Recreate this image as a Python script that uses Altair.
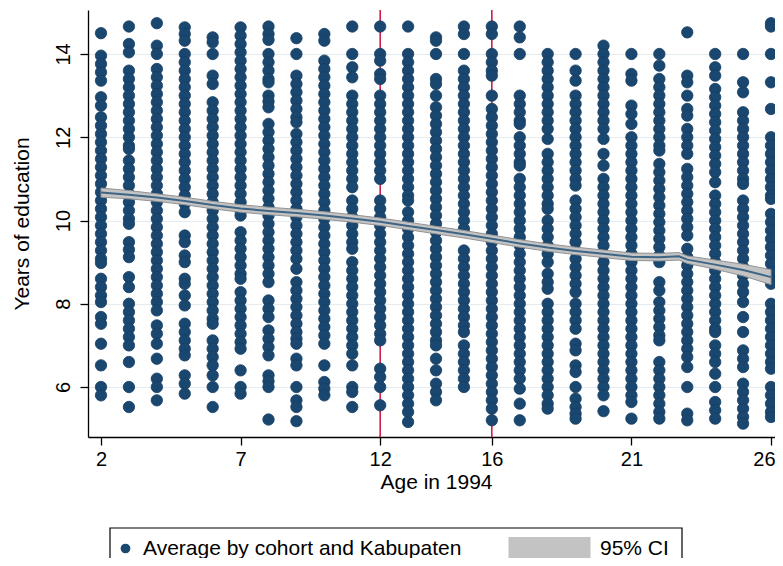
import altair as alt
import pandas as pd

# ---------------- data ----------------
AGES = list(range(2, 27))

Y02 = [14.5, 13.96, 13.76, 13.56, 13.36, 12.96, 12.76, 12.48, 12.28, 12.08, 11.88, 11.68, 11.48, 11.28, 11.08, 10.88, 10.68, 10.48, 10.28, 10.08, 9.88, 9.68, 9.48, 9.28, 9.08, 8.98, 8.6, 8.4, 8.2, 8.04, 7.68, 7.52, 7.04, 6.52, 6.0, 5.8]
Y03 = [14.66, 14.24, 14.04, 13.6, 13.4, 13.2, 13.0, 12.8, 12.6, 12.4, 12.2, 12.0, 11.8, 11.72, 11.44, 11.24, 11.04, 10.84, 10.64, 10.44, 10.24, 10.04, 9.92, 9.48, 9.3, 9.12, 8.64, 8.4, 8.0, 7.8, 7.6, 7.4, 7.2, 7.0, 6.6, 6.0, 5.52]
Y04 = [14.74, 14.2, 14.0, 13.64, 13.44, 13.24, 13.04, 12.84, 12.64, 12.44, 12.24, 12.04, 11.84, 11.64, 11.44, 11.24, 11.04, 10.84, 10.64, 10.44, 10.24, 10.04, 9.84, 9.64, 9.44, 9.24, 9.04, 8.84, 8.64, 8.44, 8.24, 8.04, 7.84, 7.48, 7.28, 7.04, 6.68, 6.2, 6.0, 5.68]
Y05 = [14.64, 14.48, 14.32, 14.0, 13.8, 13.6, 13.4, 13.2, 13.0, 12.8, 12.6, 12.4, 12.2, 12.0, 11.8, 11.6, 11.4, 11.2, 11.0, 10.8, 10.6, 10.4, 10.2, 9.64, 9.48, 9.16, 9.0, 8.6, 8.48, 8.2, 7.96, 7.52, 7.32, 7.12, 6.92, 6.76, 6.28, 6.08, 5.84]
Y06 = [14.4, 14.28, 14.0, 13.48, 13.28, 12.84, 12.64, 12.44, 12.24, 12.04, 11.84, 11.64, 11.44, 11.24, 11.04, 10.84, 10.64, 10.44, 10.24, 10.04, 9.84, 9.64, 9.44, 9.24, 9.04, 8.84, 8.64, 8.44, 8.24, 8.04, 7.84, 7.64, 7.52, 7.12, 6.92, 6.72, 6.52, 6.28, 6.0, 5.52]
Y07 = [14.64, 14.44, 14.24, 14.04, 13.84, 13.64, 13.44, 13.24, 13.04, 12.84, 12.64, 12.44, 12.24, 12.04, 11.84, 11.64, 11.44, 11.24, 11.04, 10.84, 10.64, 10.44, 10.24, 10.12, 9.72, 9.52, 9.32, 9.12, 8.92, 8.72, 8.6, 8.28, 8.08, 7.88, 7.68, 7.48, 7.28, 7.08, 6.92, 6.4, 6.0, 5.84]
Y08 = [14.66, 14.48, 14.34, 14.0, 13.8, 13.6, 13.4, 13.32, 13.0, 12.86, 12.72, 12.32, 12.12, 11.92, 11.72, 11.52, 11.32, 11.12, 10.92, 10.72, 10.52, 10.32, 10.12, 9.92, 9.72, 9.52, 9.32, 9.12, 8.92, 8.72, 8.52, 8.08, 7.88, 7.68, 7.36, 7.16, 6.96, 6.76, 6.28, 6.14, 6.0, 5.22]
Y09 = [14.38, 14.0, 13.48, 13.28, 13.08, 12.88, 12.68, 12.48, 12.36, 12.08, 11.88, 11.68, 11.48, 11.28, 11.08, 10.88, 10.68, 10.48, 10.28, 10.08, 9.88, 9.68, 9.48, 9.28, 9.08, 8.84, 8.52, 8.32, 8.12, 7.92, 7.72, 7.52, 7.32, 7.16, 7.04, 6.68, 6.52, 6.0, 5.68, 5.52, 5.18]
Y10 = [14.48, 14.32, 13.84, 13.64, 13.44, 13.24, 13.04, 12.84, 12.64, 12.44, 12.24, 12.04, 11.84, 11.64, 11.44, 11.24, 11.04, 10.84, 10.64, 10.44, 10.24, 10.04, 9.84, 9.64, 9.44, 9.24, 9.04, 8.84, 8.64, 8.44, 8.24, 8.04, 7.84, 7.64, 7.44, 7.24, 7.04, 6.52, 6.12, 5.96, 5.8]
Y11 = [14.66, 14.0, 13.68, 13.44, 13.0, 12.8, 12.6, 12.4, 12.2, 12.0, 11.8, 11.6, 11.4, 11.2, 11.0, 10.8, 10.48, 10.28, 10.08, 9.88, 9.68, 9.48, 9.32, 9.0, 8.8, 8.6, 8.4, 8.2, 8.0, 7.8, 7.6, 7.4, 7.2, 7.0, 6.8, 6.52, 6.0, 5.88, 5.52]
Y12 = [14.66, 14.0, 13.84, 13.52, 13.4, 13.0, 12.8, 12.6, 12.4, 12.2, 12.0, 11.8, 11.6, 11.4, 11.2, 11.0, 10.48, 10.28, 10.08, 9.88, 9.68, 9.48, 9.28, 9.08, 8.88, 8.68, 8.48, 8.28, 8.08, 7.88, 7.68, 7.48, 7.28, 7.12, 6.44, 6.24, 6.0, 5.56]
Y13 = [14.66, 14.0, 13.8, 13.6, 13.4, 13.2, 13.0, 12.8, 12.6, 12.4, 12.2, 12.0, 11.8, 11.6, 11.4, 11.2, 11.0, 10.8, 10.6, 10.48, 10.2, 10.0, 9.8, 9.6, 9.4, 9.2, 9.0, 8.8, 8.6, 8.4, 8.2, 8.0, 7.8, 7.6, 7.4, 7.2, 7.0, 6.8, 6.6, 6.4, 6.2, 6.0, 5.8, 5.6, 5.4, 5.16]
Y14 = [14.4, 14.32, 14.0, 13.4, 13.28, 13.0, 12.72, 12.52, 12.32, 12.12, 11.92, 11.72, 11.52, 11.32, 11.12, 10.92, 10.72, 10.52, 10.32, 10.12, 9.92, 9.72, 9.52, 9.32, 9.12, 8.92, 8.72, 8.52, 8.32, 8.12, 7.92, 7.72, 7.52, 7.32, 7.12, 7.0, 6.68, 6.4, 6.08, 5.88, 5.68]
Y15 = [14.66, 14.48, 14.0, 13.6, 13.4, 13.2, 13.0, 12.8, 12.6, 12.4, 12.2, 12.0, 11.8, 11.6, 11.4, 11.2, 11.0, 10.8, 10.6, 10.4, 10.2, 10.0, 9.8, 9.28, 9.08, 8.88, 8.68, 8.48, 8.28, 8.08, 7.88, 7.68, 7.48, 7.32, 7.0, 6.8, 6.6, 6.4, 6.2, 6.0]
Y16 = [14.66, 14.48, 14.0, 13.8, 13.6, 13.48, 13.0, 12.68, 12.48, 12.28, 12.08, 11.88, 11.68, 11.48, 11.28, 11.08, 10.88, 10.68, 10.48, 10.28, 10.08, 9.88, 9.68, 9.48, 9.28, 9.08, 8.88, 8.68, 8.48, 8.28, 8.08, 7.88, 7.68, 7.48, 7.28, 7.08, 6.88, 6.68, 6.48, 6.28, 6.08, 5.88, 5.68, 5.48, 5.2]
Y17 = [14.66, 14.4, 14.0, 13.0, 12.8, 12.6, 12.4, 12.32, 12.0, 11.8, 11.6, 11.4, 11.32, 11.0, 10.8, 10.6, 10.4, 10.2, 10.0, 9.8, 9.6, 9.4, 9.2, 9.0, 8.8, 8.6, 8.4, 8.2, 8.0, 7.8, 7.6, 7.4, 7.2, 7.0, 6.8, 6.6, 6.4, 6.2, 5.96, 5.6, 5.2]
Y18 = [14.0, 13.8, 13.6, 13.4, 13.2, 13.0, 12.8, 12.6, 12.4, 12.2, 11.96, 11.6, 11.4, 11.2, 11.0, 10.8, 10.6, 10.4, 10.28, 10.0, 9.8, 9.6, 9.4, 9.2, 9.0, 8.72, 8.52, 8.36, 8.0, 7.8, 7.6, 7.4, 7.2, 7.0, 6.8, 6.6, 6.4, 6.2, 6.0, 5.8, 5.6, 5.48]
Y19 = [14.0, 13.6, 13.36, 13.0, 12.8, 12.6, 12.4, 12.2, 12.0, 11.8, 11.6, 11.4, 11.2, 11.0, 10.84, 10.48, 10.28, 10.08, 9.88, 9.68, 9.48, 9.28, 9.08, 8.88, 8.68, 8.48, 8.28, 8.0, 7.8, 7.6, 7.4, 7.04, 6.88, 6.52, 6.36, 6.0, 5.72, 5.52, 5.36, 5.24]
Y20 = [14.2, 14.0, 13.8, 13.6, 13.4, 13.2, 13.0, 12.8, 12.6, 12.4, 12.2, 11.96, 11.6, 11.32, 11.0, 10.8, 10.6, 10.4, 10.2, 10.0, 9.8, 9.6, 9.4, 9.2, 9.0, 8.8, 8.6, 8.4, 8.2, 8.0, 7.8, 7.6, 7.4, 7.2, 7.0, 6.8, 6.6, 6.4, 6.2, 6.0, 5.8, 5.42]
Y21 = [14.0, 13.52, 13.36, 12.76, 12.56, 12.32, 12.0, 11.8, 11.6, 11.4, 11.2, 11.0, 10.8, 10.6, 10.4, 10.2, 10.0, 9.8, 9.6, 9.4, 9.2, 9.0, 8.8, 8.6, 8.4, 8.2, 8.0, 7.8, 7.6, 7.4, 7.2, 7.0, 6.8, 6.6, 6.4, 6.2, 6.0, 5.8, 5.64, 5.24]
Y22 = [14.0, 13.72, 13.4, 13.2, 13.0, 12.8, 12.6, 12.4, 12.2, 12.0, 11.8, 11.68, 11.36, 11.16, 10.96, 10.76, 10.56, 10.36, 10.16, 9.96, 9.76, 9.56, 9.36, 9.16, 9.0, 8.52, 8.32, 8.04, 7.84, 7.64, 7.44, 7.24, 7.12, 6.6, 6.4, 6.2, 6.0, 5.8, 5.6, 5.4, 5.24]
Y23 = [14.52, 13.48, 13.32, 13.0, 12.68, 12.52, 12.2, 12.0, 11.8, 11.6, 11.24, 11.04, 10.84, 10.64, 10.44, 10.24, 10.04, 9.84, 9.64, 9.32, 9.12, 8.92, 8.72, 8.52, 8.32, 8.12, 7.92, 7.72, 7.52, 7.32, 7.12, 6.92, 6.72, 6.48, 6.0, 5.36, 5.2]
Y24 = [14.0, 13.68, 13.48, 13.16, 12.96, 12.76, 12.56, 12.36, 12.16, 11.96, 11.76, 11.56, 11.36, 11.16, 10.92, 10.6, 10.4, 10.2, 10.0, 9.8, 9.6, 9.4, 9.2, 9.0, 8.8, 8.6, 8.4, 8.2, 8.0, 7.8, 7.6, 7.4, 7.32, 7.0, 6.8, 6.6, 6.32, 6.0, 5.64, 5.44, 5.24]
Y25 = [14.0, 13.32, 13.08, 12.6, 12.4, 12.2, 12.0, 11.8, 11.6, 11.4, 11.2, 11.0, 10.88, 10.48, 10.28, 10.08, 9.88, 9.68, 9.48, 9.28, 9.08, 8.88, 8.68, 8.48, 8.28, 8.04, 7.68, 7.32, 6.88, 6.68, 6.48, 6.08, 5.88, 5.68, 5.48, 5.28, 5.12]
Y26 = [14.74, 14.66, 14.0, 13.32, 12.68, 12.0, 11.8, 11.6, 11.4, 11.2, 11.0, 10.8, 10.6, 10.52, 10.16, 9.96, 9.76, 9.56, 9.36, 9.16, 8.96, 8.76, 8.56, 8.48, 8.0, 7.8, 7.6, 7.4, 7.2, 7.0, 6.8, 6.6, 6.44, 6.0, 5.8, 5.6, 5.4, 5.28]

Y_BY_AGE = [Y02, Y03, Y04, Y05, Y06, Y07, Y08, Y09, Y10, Y11, Y12, Y13, Y14,
            Y15, Y16, Y17, Y18, Y19, Y20, Y21, Y22, Y23, Y24, Y25, Y26]

# local polynomial fit with 95% CI
FIT_AGE = [2, 3, 4, 5, 6, 7, 8, 9, 10, 11, 12, 13, 14, 15, 16, 17, 18, 19, 20, 21, 22, 22.7, 23, 24, 25, 26]
FIT_MEAN = [10.67, 10.62, 10.55, 10.47, 10.37, 10.29, 10.23, 10.18, 10.12, 10.05, 9.97, 9.87, 9.77, 9.67, 9.56, 9.45, 9.35, 9.27, 9.2, 9.13, 9.12, 9.14, 9.06, 8.94, 8.81, 8.64]
FIT_LO = [10.56, 10.52, 10.46, 10.38, 10.28, 10.2, 10.14, 10.09, 10.03, 9.96, 9.88, 9.78, 9.68, 9.58, 9.47, 9.36, 9.26, 9.18, 9.11, 9.04, 9.03, 9.05, 8.97, 8.83, 8.67, 8.46]
FIT_HI = [10.78, 10.72, 10.64, 10.56, 10.46, 10.38, 10.32, 10.27, 10.21, 10.14, 10.06, 9.96, 9.86, 9.76, 9.65, 9.54, 9.44, 9.36, 9.29, 9.22, 9.21, 9.23, 9.15, 9.05, 8.95, 8.82]

CUTOFFS = [12, 16]
X_TICKS = [2, 7, 12, 16, 21, 26]
Y_TICKS = [6, 8, 10, 12, 14]
POINT_LABEL = "Average by cohort and Kabupaten"
CI_LABEL = "95% CI"

# ---------------- tables ----------------
pts = pd.DataFrame(
    [{"age": a, "edu": v} for a, ys in zip(AGES, Y_BY_AGE) for v in ys]
)
pts["series"] = POINT_LABEL
fit = pd.DataFrame({"age": FIT_AGE, "mean": FIT_MEAN, "lo": FIT_LO, "hi": FIT_HI})
fit["ci"] = CI_LABEL
cut = pd.DataFrame({"age": CUTOFFS})
box = pd.DataFrame({"k": [0]})

FONT = "Liberation Sans"
W, H = 687, 427
xs = alt.Scale(domain=[1.534, 26.143], nice=False, zero=False)
ys = alt.Scale(domain=[4.799, 15.057], nice=False, zero=False)

x_axis = alt.Axis(
    values=X_TICKS, title="Age in 1994", grid=False,
    labelFontSize=20, labelBaseline="alphabetic", labelPadding=20,
    labelFlush=6, labelFlushOffset=4, labelOverlap=False, labelColor="black",
    tickSize=8, tickColor="black", tickWidth=1.3,
    domainColor="black", domainWidth=1.3,
    titleFontSize=21, titleFontWeight="normal", titleColor="black",
    titleBaseline="alphabetic", titleY=51, titleX=348,
)
y_axis = alt.Axis(
    values=Y_TICKS, title="Years of education", grid=True,
    gridColor="#e4ecef", gridWidth=1.2,
    labelFontSize=20, labelAngle=270, labelAlign="center",
    labelBaseline="alphabetic", labelPadding=11, labelColor="black",
    tickSize=8, tickColor="black", tickWidth=1.3,
    domainColor="black", domainWidth=1.3,
    titleFontSize=21, titleFontWeight="normal", titleColor="black",
    titleAngle=270, titleAlign="center", titleBaseline="alphabetic",
    titleX=-60, titleY=213.5,
)

rules = alt.Chart(cut).mark_rule(color="#c8103c", strokeWidth=1.5).encode(
    x=alt.X("age:Q", scale=xs, axis=x_axis)
)

points = alt.Chart(pts).mark_circle(
    size=130, opacity=1, stroke="#173f63", strokeWidth=0.8
).encode(
    x=alt.X("age:Q", scale=xs, axis=x_axis),
    y=alt.Y("edu:Q", scale=ys, axis=y_axis),
    color=alt.Color(
        "series:N",
        scale=alt.Scale(range=["#1a476f"]),
        legend=alt.Legend(
            title=None, orient="none", legendX=27, legendY=528,
            symbolType="circle", symbolSize=95, symbolStrokeWidth=0,
            labelFontSize=21, labelColor="black", labelLimit=0,
            labelOffset=7, padding=0,
        ),
    ),
)

band = alt.Chart(fit).mark_area(stroke="#939393", strokeWidth=1, opacity=1).encode(
    x=alt.X("age:Q", scale=xs),
    y=alt.Y("lo:Q", scale=ys),
    y2="hi:Q",
    fill=alt.Fill(
        "ci:N",
        scale=alt.Scale(range=["#c3c3c3"]),
        legend=alt.Legend(
            title=None, orient="none", legendX=451, legendY=528,
            symbolType="M-8.2,-2.3H8.2V2.3H-8.2Z", symbolSize=100,
            symbolStrokeWidth=0,
            labelFontSize=21, labelColor="black", labelLimit=0,
            labelOffset=40, padding=0,
        ),
    ),
)

line = alt.Chart(fit).mark_line(color="#3f6585", strokeWidth=2).encode(
    x=alt.X("age:Q", scale=xs),
    y=alt.Y("mean:Q", scale=ys),
)

frame = alt.Chart(box).mark_rect(
    fill="white", fillOpacity=0, stroke="black", strokeWidth=1.2
).encode(
    x=alt.value(22), x2=alt.value(594), y=alt.value(518), y2=alt.value(590)
)

chart = (
    alt.layer(rules, points, band, line, frame)
    .resolve_scale(color="independent", fill="independent")
    .properties(
        width=W, height=H,
        autosize=alt.AutoSizeParams(type="none"),
        padding={"left": 80, "top": 2, "right": 0, "bottom": 121},
    )
    .configure(font=FONT)
    .configure_view(stroke=None)
)

chart.save("out.html", embed_options={"renderer": "svg", "actions": False})
